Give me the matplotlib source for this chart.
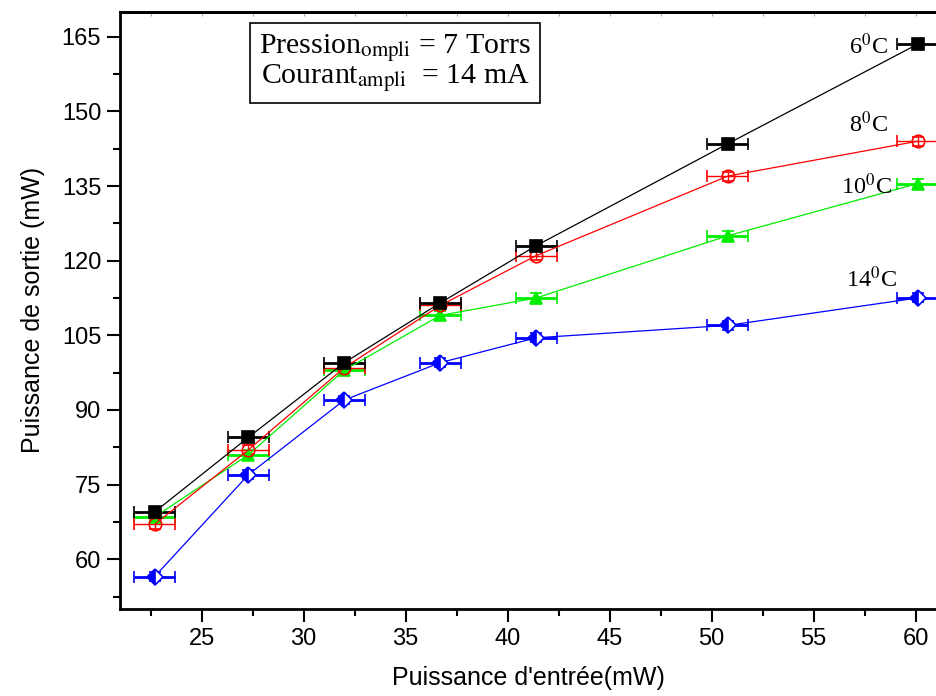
import matplotlib
matplotlib.use("Agg")
import matplotlib.pyplot as plt
from matplotlib.ticker import MultipleLocator, NullFormatter

plt.rcParams['font.family'] = ['Liberation Sans', 'DejaVu Sans']
plt.rcParams['mathtext.fontset'] = 'stix'

# input power (mW)
x = [22.7, 27.3, 32.0, 36.7, 41.4, 50.8, 60.1]
x_err = 1.0
y_err = 0.9

# output power (mW) per temperature
p_6C = [69.5, 84.5, 99.5, 111.5, 123.0, 143.5, 163.5]
p_8C = [67.0, 82.0, 98.5, 111.0, 121.0, 137.0, 144.0]
p_10C = [68.5, 81.0, 98.0, 109.0, 112.5, 125.0, 135.5]
p_14C = [56.5, 77.0, 92.0, 99.5, 104.5, 107.0, 112.5]

labels = ['6$^0$C', '8$^0$C', '10$^0$C', '14$^0$C']

fig = plt.figure(figsize=(9.37, 6.96), dpi=100)
ax = fig.add_axes([0.128, 0.125, 0.872, 0.858])

#series: values, color, marker, fill, errorbar width
series = [
    (p_14C, '#0000ff', 'D', 'left', 2.0),
    (p_10C, '#00ee00', '^', 'full', 2.0),
    (p_8C, '#ff0000', 'o', 'none', 1.0),
    (p_6C, '#000000', 's', 'full', 2.0),
]
for vals, col, mk, fill, ew in series:
    ax.errorbar(x, vals, xerr=x_err, yerr=y_err, color=col, lw=0.9,
                ecolor=col, elinewidth=ew, capsize=4, capthick=ew,
                marker=mk, markersize=9 if mk != 'D' else 8,
                fillstyle=fill, markerfacecolor=col if fill != 'none' else 'white',
                markerfacecoloralt='white', markeredgecolor=col, markeredgewidth=1.2)

# temperature labels
serif = ['Liberation Serif', 'DejaVu Serif']
ax.text(57.7, 163.0, labels[0], fontsize=17.5, family=serif, ha='center', va='center')
ax.text(57.7, 147.3, labels[1], fontsize=17.5, family=serif, ha='center', va='center')
ax.text(57.6, 134.9, labels[2], fontsize=17.5, family=serif, ha='center', va='center')
ax.text(57.85, 116.2, labels[3], fontsize=17.5, family=serif, ha='center', va='center')

box_text = ('Pression$_{\\mathrm{ompli}}$ = 7 Torrs\n'
            'Courant$_{\\mathrm{ampli}}$  = 14 mA')
ax.text(0.337, 0.914, box_text, transform=ax.transAxes, fontsize=21.5,
        family=serif, ha='center', va='center', linespacing=0.92,
        bbox=dict(boxstyle='square,pad=0.3', fc='white', ec='black', lw=1.2))

ax.set_xlim(21, 61.05)
ax.set_ylim(50, 170)
ax.xaxis.set_major_locator(MultipleLocator(5))
ax.xaxis.set_minor_locator(MultipleLocator(2.5))
ax.yaxis.set_major_locator(MultipleLocator(15))
ax.yaxis.set_minor_locator(MultipleLocator(7.5))
ax.tick_params(axis='both', which='major', direction='out', length=9.5, width=1.5,
               labelsize=17, pad=4)
ax.tick_params(axis='both', which='minor', direction='out', length=5, width=1.5)

#faint ticks on the top spine
top = ax.secondary_xaxis('top')
top.xaxis.set_major_locator(MultipleLocator(2.5))
top.xaxis.set_major_formatter(NullFormatter())
top.tick_params(direction='in', length=3, width=0.8, color='#aaaaaa')

for side in ['left', 'bottom']:
    ax.spines[side].set_linewidth(2)
ax.spines['top'].set_linewidth(2)
top.spines['top'].set_linewidth(2)
ax.spines['right'].set_visible(False)

ax.set_xlabel("Puissance d'entrée(mW)", fontsize=18, labelpad=12)
ax.set_ylabel('Puissance de sortie (mW)', fontsize=18, labelpad=12)

fig.savefig('out.png', dpi=100)
